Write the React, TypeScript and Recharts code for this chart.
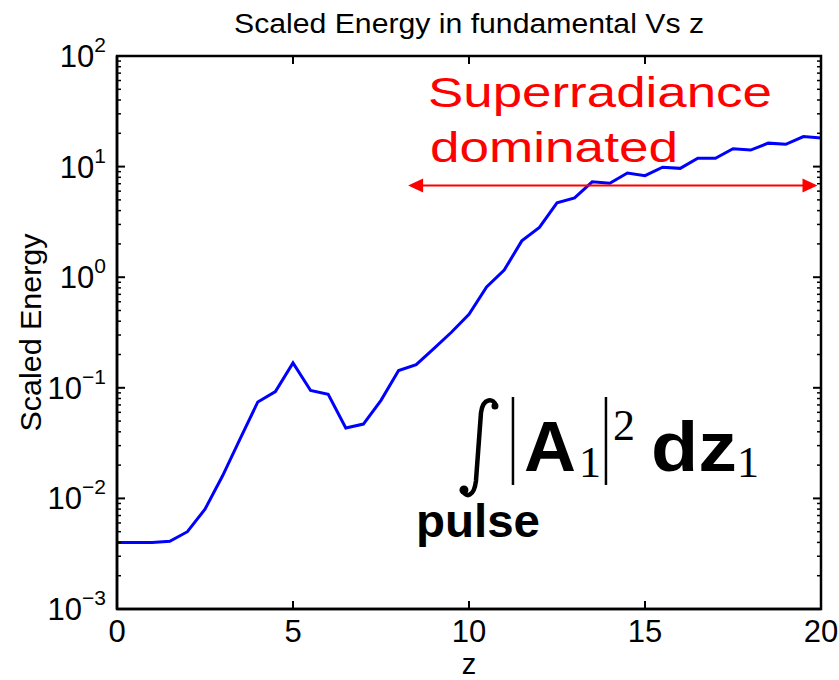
import React from "react";
import {
  LineChart,
  Line,
  XAxis,
  YAxis,
  ReferenceLine,
  ReferenceDot,
} from "recharts";

const FONT = "'Liberation Sans', Arial, Helvetica, sans-serif";
const SERIF = "'Liberation Serif', 'Times New Roman', serif";

// z positions along the undulator
const zValues = [
  0, 0.5, 1, 1.5, 2, 2.5, 3, 3.5, 4, 4.5, 5, 5.5, 6, 6.5, 7, 7.5, 8, 8.5, 9,
  9.5, 10, 10.5, 11, 11.5, 12, 12.5, 13, 13.5, 14, 14.5, 15, 15.5, 16, 16.5,
  17, 17.5, 18, 18.5, 19, 19.5, 20,
];

// scaled energy (log axis)
const energyValues = [
  0.004, 0.004, 0.004, 0.0041, 0.005, 0.008, 0.016, 0.0347, 0.0745, 0.0925,
  0.168, 0.0946, 0.0874, 0.0433, 0.047, 0.077, 0.1435, 0.162, 0.226, 0.318,
  0.463, 0.818, 1.16, 2.13, 2.82, 4.7, 5.21, 7.29, 7.06, 8.76, 8.28, 9.87,
  9.64, 11.9, 11.9, 14.5, 14.1, 16.3, 15.9, 18.7, 18.1,
];

const xTicks = [0, 5, 10, 15, 20];
const yTicks = [0.001, 0.01, 0.1, 1, 10, 100];
const yExponents = ["\u22123", "\u22122", "\u22121", "0", "1", "2"];
const decades = [0.001, 0.01, 0.1, 1, 10];
const minorYTicks = decades.flatMap((d) =>
  [2, 3, 4, 5, 6, 7, 8, 9].map((m) => m * d)
);
const allYTicks = [...yTicks, ...minorYTicks].sort((a, b) => a - b);

const title = "Scaled Energy in fundamental Vs z";
const xLabel = "z";
const yLabel = "Scaled Energy";
const annotationLines = ["Superradiance", "dominated"];

// where the annotations sit, in data units
const arrowSpan = { from: 8.27, to: 19.9, level: 6.73 };
const textAnchorPt = { z: 8.835, e: 34.6 };
const formulaAnchorPt = { z: 8.55, e: 0.00448 };

const X_DOMAIN: [number, number] = [0, 20];
const Y_DOMAIN: [number, number] = [0.001, 100];

// chart geometry
const W = 839;
const H = 680;
const MARGIN = { top: 56, right: 18, bottom: 0, left: 0 };
const Y_AXIS_W = 117;
const X_AXIS_H = 71;
const PL = MARGIN.left + Y_AXIS_W;
const PR = W - MARGIN.right;
const PT = MARGIN.top;
const PB = H - MARGIN.bottom - X_AXIS_H;

const data = zValues.map((z, i) => ({ z, energy: energyValues[i] }));

const YTick = ({ x, y, payload }: any) => {
  const i = yTicks.findIndex(
    (t) => Math.abs(Math.log10(t) - Math.log10(payload.value)) < 1e-6
  );
  const len = i >= 0 ? 8 : 4;
  const sw = i >= 0 ? 2 : 1.5;
  return (
    <g>
      <line x1={PL} y1={y} x2={PL + len} y2={y} stroke="#000" strokeWidth={sw} />
      <line x1={PR - len} y1={y} x2={PR} y2={y} stroke="#000" strokeWidth={sw} />
      {i >= 0 && (
        <text x={x} y={y + 11} textAnchor="end" fontFamily={FONT} fontSize={31} fill="#000">
          10
          <tspan dy={-15} fontSize={21}>
            {yExponents[i]}
          </tspan>
        </text>
      )}
    </g>
  );
};

const XTick = ({ x, y, payload }: any) => (
  <g>
    <line x1={x} y1={PB} x2={x} y2={PB - 8} stroke="#000" strokeWidth={2} />
    <line x1={x} y1={PT} x2={x} y2={PT + 8} stroke="#000" strokeWidth={2} />
    <text x={x} y={y + 22} textAnchor="middle" fontFamily={FONT} fontSize={31} fill="#000">
      {payload.value}
    </text>
  </g>
);

const XLabel = ({ viewBox }: any) => (
  <text
    x={viewBox.x + viewBox.width / 2}
    y={viewBox.y + viewBox.height - 6}
    textAnchor="middle"
    fontFamily={FONT}
    fontSize={29}
    fill="#000"
  >
    {xLabel}
  </text>
);

const YLabel = ({ viewBox }: any) => {
  const cx = 31;
  const cy = viewBox.y + viewBox.height / 2;
  return (
    <text
      x={cx}
      y={cy}
      transform={`rotate(-90 ${cx} ${cy})`}
      textAnchor="middle"
      dominantBaseline="central"
      fontFamily={FONT}
      fontSize={29}
      textLength={198}
      lengthAdjust="spacingAndGlyphs"
      fill="#000"
    >
      {yLabel}
    </text>
  );
};

// box around the plot, anchored at the top-left data corner
const Frame = ({ cx, cy }: any) => (
  <rect
    x={cx}
    y={cy}
    width={PR - PL}
    height={PB - PT}
    fill="none"
    stroke="#000"
    strokeWidth={2.5}
  />
);

const TitleText = ({ cx, cy }: any) => (
  <text
    x={cx}
    y={cy - 23}
    textAnchor="middle"
    fontFamily={FONT}
    fontSize={27}
    textLength={470}
    lengthAdjust="spacingAndGlyphs"
    fill="#000"
  >
    {title}
  </text>
);

const ArrowShape = (props: any) => {
  const { x1, y1, x2 } = props;
  const y = y1;
  return (
    <g>
      <line x1={x1 + 12} y1={y} x2={x2 - 12} y2={y} stroke="#ff0000" strokeWidth={2} />
      <polygon points={`${x1},${y} ${x1 + 15},${y - 7} ${x1 + 15},${y + 7}`} fill="#ff0000" />
      <polygon points={`${x2},${y} ${x2 - 15},${y - 7} ${x2 - 15},${y + 7}`} fill="#ff0000" />
    </g>
  );
};

const RedText = ({ cx, cy }: any) => (
  <g fontFamily={FONT} fill="#ff0000" fontSize={42}>
    <text x={cx} y={cy} textLength={344} lengthAdjust="spacingAndGlyphs">
      {annotationLines[0]}
    </text>
    <text x={cx + 2} y={cy + 55} textLength={248} lengthAdjust="spacingAndGlyphs">
      {annotationLines[1]}
    </text>
  </g>
);

const Formula = ({ cx, cy }: any) => (
  <g transform={`translate(${cx} ${cy})`} fill="#000">
    <path
      d="M 78 -131 C 76 -139, 65 -140, 63 -124 L 58 -56 C 56 -40, 48 -39, 45 -46"
      stroke="#000"
      strokeWidth={4.5}
      fill="none"
    />
    <circle cx={77} cy={-131} r={3.5} />
    <circle cx={46} cy={-47} r={4.5} />
    <line x1={95} y1={-140} x2={95} y2={-52} stroke="#000" strokeWidth={2.5} />
    <text x={106} y={-66} fontFamily={FONT} fontWeight="bold" fontSize={70} textLength={52} lengthAdjust="spacingAndGlyphs">
      A
    </text>
    <text x={161} y={-60} fontFamily={SERIF} fontSize={44}>
      1
    </text>
    <line x1={188} y1={-140} x2={188} y2={-52} stroke="#000" strokeWidth={2.5} />
    <text x={195} y={-97} fontFamily={SERIF} fontSize={44}>
      2
    </text>
    <text x={233} y={-66} fontFamily={FONT} fontWeight="bold" fontSize={70} textLength={86} lengthAdjust="spacingAndGlyphs">
      dz
    </text>
    <text x={319} y={-60} fontFamily={SERIF} fontSize={44}>
      1
    </text>
    <text x={-2} y={0} fontFamily={FONT} fontWeight="bold" fontSize={46} textLength={124} lengthAdjust="spacingAndGlyphs">
      pulse
    </text>
  </g>
);

const axisLine = { stroke: "#000", strokeWidth: 2.5 };

export default function App() {
  return (
    <div
      style={{
        position: "absolute",
        left: 0,
        top: 0,
        width: W,
        height: H,
        background: "#fff",
      }}
    >
      <LineChart width={W} height={H} data={data} margin={MARGIN}>
        <XAxis
          xAxisId="b"
          dataKey="z"
          type="number"
          domain={X_DOMAIN}
          ticks={xTicks}
          height={X_AXIS_H}
          axisLine={axisLine}
          tickLine={false}
          tickMargin={5}
          tick={<XTick />}
          label={{ content: <XLabel /> }}
        />
        <YAxis
          yAxisId="l"
          type="number"
          scale="log"
          domain={Y_DOMAIN}
          allowDataOverflow
          ticks={allYTicks}
          interval={0}
          width={Y_AXIS_W}
          axisLine={axisLine}
          tickLine={false}
          tickMargin={5}
          tick={<YTick />}
          label={{ content: <YLabel /> }}
        />
        <Line
          xAxisId="b"
          yAxisId="l"
          dataKey="energy"
          stroke="#0000ff"
          strokeWidth={3}
          dot={false}
          isAnimationActive={false}
        />
        <ReferenceLine
          xAxisId="b"
          yAxisId="l"
          segment={[
            { x: arrowSpan.from, y: arrowSpan.level },
            { x: arrowSpan.to, y: arrowSpan.level },
          ]}
          shape={<ArrowShape />}
        />
        <ReferenceDot xAxisId="b" yAxisId="l" x={X_DOMAIN[0]} y={Y_DOMAIN[1]} r={0} ifOverflow="visible" shape={<Frame />} />
        <ReferenceDot xAxisId="b" yAxisId="l" x={10} y={Y_DOMAIN[1]} r={0} ifOverflow="visible" shape={<TitleText />} />
        <ReferenceDot xAxisId="b" yAxisId="l" x={textAnchorPt.z} y={textAnchorPt.e} r={0} shape={<RedText />} />
        <ReferenceDot xAxisId="b" yAxisId="l" x={formulaAnchorPt.z} y={formulaAnchorPt.e} r={0} shape={<Formula />} />
      </LineChart>
    </div>
  );
}
